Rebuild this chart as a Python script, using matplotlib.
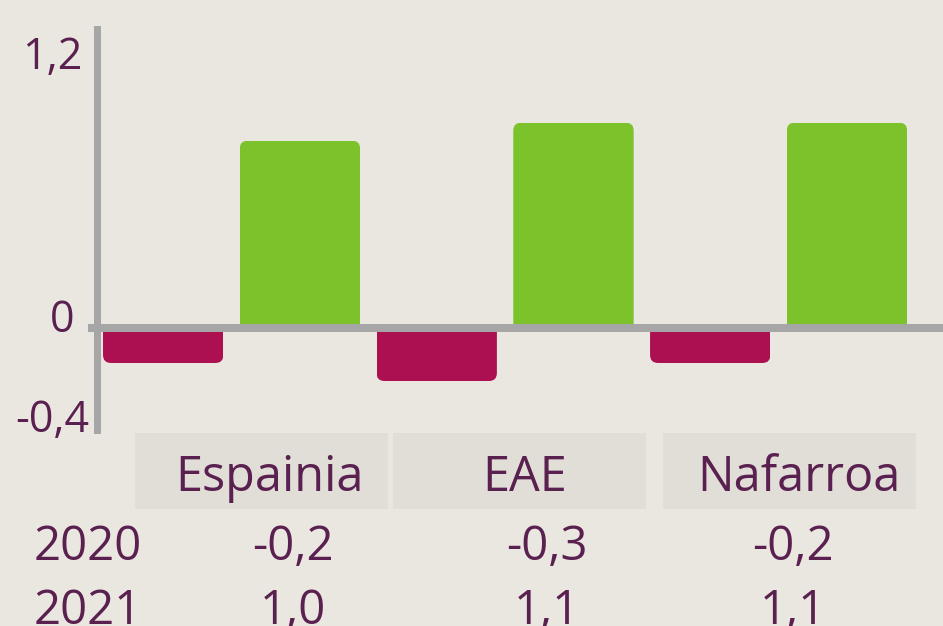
import matplotlib
matplotlib.use('Agg')
import matplotlib.pyplot as plt
from matplotlib.patches import FancyBboxPatch, Rectangle
from matplotlib.transforms import blended_transform_factory, ScaledTranslation
import numpy as np

plt.rcParams['font.family'] = ['Open Sans', 'DejaVu Sans']

regions = ['Espainia', 'EAE', 'Nafarroa']
years = ['2020', '2021']
bars_2020 = [-0.155, -0.235, -0.155]
bars_2021 = [0.83, 0.91, 0.91]
table_2020 = [-0.2, -0.3, -0.2]
table_2021 = [1.0, 1.1, 1.1]
yticks = [1.2, 0, -0.4]

W, H = 943, 626
bg = '#EAE7E1'
cell_bg = '#E1DED8'
txt = '#5A2150'
grey = '#A6A6A6'
c2020 = '#AD1050'
c2021 = '#7CC22A'


def fx(px):
    return px / W


def fy(py):
    return 1 - py / H


fig = plt.figure(figsize=(W / 100, H / 100), dpi=100)
fig.patch.set_facecolor(bg)

ax_l, ax_r, ax_t, ax_b = 97, 943, 29, 430
ax = fig.add_axes([fx(ax_l), fy(ax_b), (ax_r - ax_l) / W, (ax_b - ax_t) / H])
ax.set_facecolor(bg)
xlim = (-0.492, 2.601)
ylim = (-0.452, 1.325)
ax.set_xlim(*xlim)
ax.set_ylim(*ylim)

# rounded bars (only outer corners rounded)
px_x = (ax_r - ax_l) / (xlim[1] - xlim[0])
px_y = (ax_b - ax_t) / (ylim[1] - ylim[0])
r_px = 8
rx = r_px / px_x
ry = r_px / px_y
width = 0.44
x = np.arange(len(regions))


def rounded_bar(c, v, color):
    x0 = c - width / 2
    ext = 2 * ry
    if v >= 0:
        y0, h = -ext, v + ext
        clip = Rectangle((x0, 0), width, v, transform=ax.transData)
    else:
        y0, h = v, -v + ext
        clip = Rectangle((x0, v), width, -v, transform=ax.transData)
    p = FancyBboxPatch((x0, y0), width, h,
                       boxstyle=f'round,pad=0,rounding_size={rx}',
                       mutation_aspect=ry / rx, facecolor=color,
                       edgecolor='none', zorder=2)
    ax.add_patch(p)
    p.set_clip_path(clip)


for c, v in zip(x - 0.25, bars_2020):
    rounded_bar(c, v, c2020)
for c, v in zip(x + 0.25, bars_2021):
    rounded_bar(c, v, c2021)

ax.axhline(0, xmin=-9 / (ax_r - ax_l), xmax=1, color=grey, lw=8 * 0.72,
           clip_on=False, zorder=3, solid_capstyle='butt')

for s in ['top', 'right', 'bottom']:
    ax.spines[s].set_visible(False)
ax.spines['left'].set_color(grey)
ax.spines['left'].set_linewidth(7 * 0.72)
ax.set_xticks([])
ax.set_yticks([])

# y tick labels, nudged like the reference
blend = blended_transform_factory(ax.transAxes, ax.transData)
tick_nudge = [(-15, -1), (-23, 7), (-8, -2)]
for t, (dx, dy) in zip(yticks, tick_nudge):
    tr = blend + ScaledTranslation(dx / 100, dy / 100, fig.dpi_scale_trans)
    ax.text(0, t, ('%g' % t).replace('.', ','), transform=tr, ha='right',
            va='center', fontsize=31, color=txt, clip_on=False)

# table below the chart
header_boxes = [(135, 388), (393, 646), (663, 916)]
header_x = [270, 525, 799]
value_x = [293, 547, 793]
for (x0, x1), hx, name in zip(header_boxes, header_x, regions):
    fig.add_artist(Rectangle((fx(x0), fy(509)), (x1 - x0) / W, (509 - 433) / H,
                             transform=fig.transFigure, facecolor=cell_bg,
                             edgecolor='none'))
    fig.text(fx(hx), fy(491), name, ha='center', va='baseline',
             fontsize=35, color=txt)

for year, row, base in zip(years, [table_2020, table_2021], [560, 624]):
    fig.text(fx(34), fy(base), year, ha='left', va='baseline',
             fontsize=34, color=txt)
    for vx, v in zip(value_x, row):
        fig.text(fx(vx), fy(base), f'{v:.1f}'.replace('.', ','),
                 ha='center', va='baseline', fontsize=34, color=txt)

fig.savefig('out.png', dpi=100, facecolor=bg)
